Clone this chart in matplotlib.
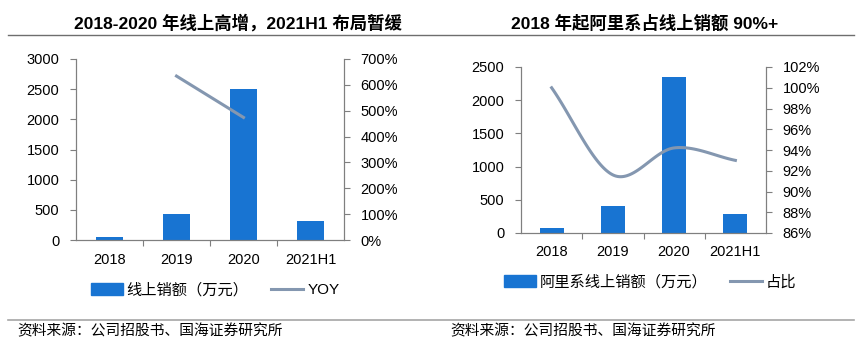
import numpy as np
import matplotlib
matplotlib.use("Agg")
import matplotlib.pyplot as plt
from matplotlib.ticker import FuncFormatter, MultipleLocator
from matplotlib.lines import Line2D
from matplotlib.patches import Patch

plt.rcParams['font.family'] = ['Liberation Sans', 'Noto Sans CJK SC', 'DejaVu Sans']

# ---------------- data ----------------
categories = ["2018", "2019", "2020", "2021H1"]
online_sales = [55, 430, 2500, 310]            # 线上销额（万元）
yoy_pct = [None, 634, 474, None]                # YOY (%)
ali_sales = [70, 400, 2350, 290]               # 阿里系线上销额（万元）
ali_share_pct = [100.0, 91.6, 94.2, 93.0]      # 占比 (%)

title_left = "2018-2020 年线上高增，2021H1 布局暂缓"
title_right = "2018 年起阿里系占线上销额 90%+"
source_text = "资料来源：公司招股书、国海证券研究所"

BAR = "#1874D2"
LINE = "#8497B0"
SPINE = "#7F7F7F"

W, H = 866, 352
fig = plt.figure(figsize=(W / 100, H / 100), dpi=100)


def ax_rect(x0, y0, x1, y1):
    return [x0 / W, 1 - y1 / H, (x1 - x0) / W, (y1 - y0) / H]


def style_axes(ax, ax2):
    for a in (ax, ax2):
        a.spines['top'].set_visible(False)
        for s in ('left', 'right', 'bottom'):
            a.spines[s].set_color(SPINE)
            a.spines[s].set_linewidth(0.8)
    ax.tick_params(axis='y', direction='out', length=4, width=0.8, color=SPINE,
                   labelsize=10.5, pad=8)
    ax2.tick_params(axis='y', direction='out', length=4, width=0.8, color=SPINE,
                    labelsize=10.5, pad=8)
    ax.tick_params(axis='x', which='major', length=0, labelsize=10.5, pad=9)
    ax.tick_params(axis='x', which='minor', length=4, width=0.8, color=SPINE)
    ax.set_xticks(np.arange(len(categories)))
    ax.set_xticklabels(categories)
    ax.set_xticks(np.arange(len(categories) - 1) + 0.5, minor=True)
    ax.set_xlim(-0.5, len(categories) - 0.5)


def catmull_rom(xs, ys, n=40):
    xs = np.asarray(xs, float)
    ys = np.asarray(ys, float)
    P = np.column_stack([xs, ys])
    P = np.vstack([2 * P[0] - P[1], P, 2 * P[-1] - P[-2]])
    out = []
    for i in range(1, len(P) - 2):
        p0, p1, p2, p3 = P[i - 1], P[i], P[i + 1], P[i + 2]
        t = np.linspace(0, 1, n)[:, None]
        seg = 0.5 * ((2 * p1) + (-p0 + p2) * t + (2 * p0 - 5 * p1 + 4 * p2 - p3) * t ** 2
                     + (-p0 + 3 * p1 - 3 * p2 + p3) * t ** 3)
        out.append(seg if i == len(P) - 3 else seg[:-1])
    out = np.vstack(out)
    return out[:, 0], out[:, 1]


x = np.arange(len(categories))

# ---------------- left chart ----------------
axL = fig.add_axes(ax_rect(76, 59, 344, 240))
axL2 = axL.twinx()
axL.bar(x, online_sales, width=0.39, color=BAR, zorder=2)
axL.set_ylim(0, 3000)
axL.yaxis.set_major_locator(MultipleLocator(500))
yx = [i for i, v in enumerate(yoy_pct) if v is not None]
yv = [v for v in yoy_pct if v is not None]
axL2.plot(yx, yv, color=LINE, lw=2.2, zorder=3)
axL2.set_ylim(0, 700)
axL2.yaxis.set_major_locator(MultipleLocator(100))
axL2.yaxis.set_major_formatter(FuncFormatter(lambda v, p: f"{v:.0f}%"))
style_axes(axL, axL2)

# ---------------- right chart ----------------
axR = fig.add_axes(ax_rect(521, 67, 766, 233))
axR2 = axR.twinx()
axR.bar(x, ali_sales, width=0.39, color=BAR, zorder=2)
axR.set_ylim(0, 2500)
axR.yaxis.set_major_locator(MultipleLocator(500))
sx, sy = catmull_rom(x, ali_share_pct)
axR2.plot(sx, sy, color=LINE, lw=2.2, zorder=3)
axR2.set_ylim(86, 102)
axR2.yaxis.set_major_locator(MultipleLocator(2))
axR2.yaxis.set_major_formatter(FuncFormatter(lambda v, p: f"{v:.0f}%"))
style_axes(axR, axR2)

# ---------------- titles & rules ----------------
fig.text(238 / W, 1 - 23 / H, title_left, ha='center', va='center',
         fontsize=12.5, fontweight='bold')
fig.text(645 / W, 1 - 23 / H, title_right, ha='center', va='center',
         fontsize=12.5, fontweight='bold')
fig.add_artist(Line2D([8 / W, 854 / W], [1 - 34.5 / H] * 2, color='#6E6E6E', lw=1.0))
fig.add_artist(Line2D([8 / W, 854 / W], [1 - 320 / H] * 2, color='#A6A6A6', lw=1.2))
fig.text(17 / W, 1 - 331 / H, source_text, ha='left', va='center', fontsize=10.6)
fig.text(450 / W, 1 - 331 / H, source_text, ha='left', va='center', fontsize=10.6)

# ---------------- legends ----------------
leg_kw = dict(ncol=2, frameon=False, fontsize=11, handlelength=2.1,
              handleheight=0.8, handletextpad=0.25, columnspacing=1.5)
fig.legend(handles=[Patch(color=BAR, label="线上销额（万元）"),
                    Line2D([], [], color=LINE, lw=2.2, label="YOY")],
           loc='center', bbox_to_anchor=(215 / W, 1 - 290 / H), **leg_kw)
fig.legend(handles=[Patch(color=BAR, label="阿里系线上销额（万元）"),
                    Line2D([], [], color=LINE, lw=2.2, label="占比")],
           loc='center', bbox_to_anchor=(650 / W, 1 - 282 / H), **leg_kw)

fig.savefig("out.png", dpi=100)
